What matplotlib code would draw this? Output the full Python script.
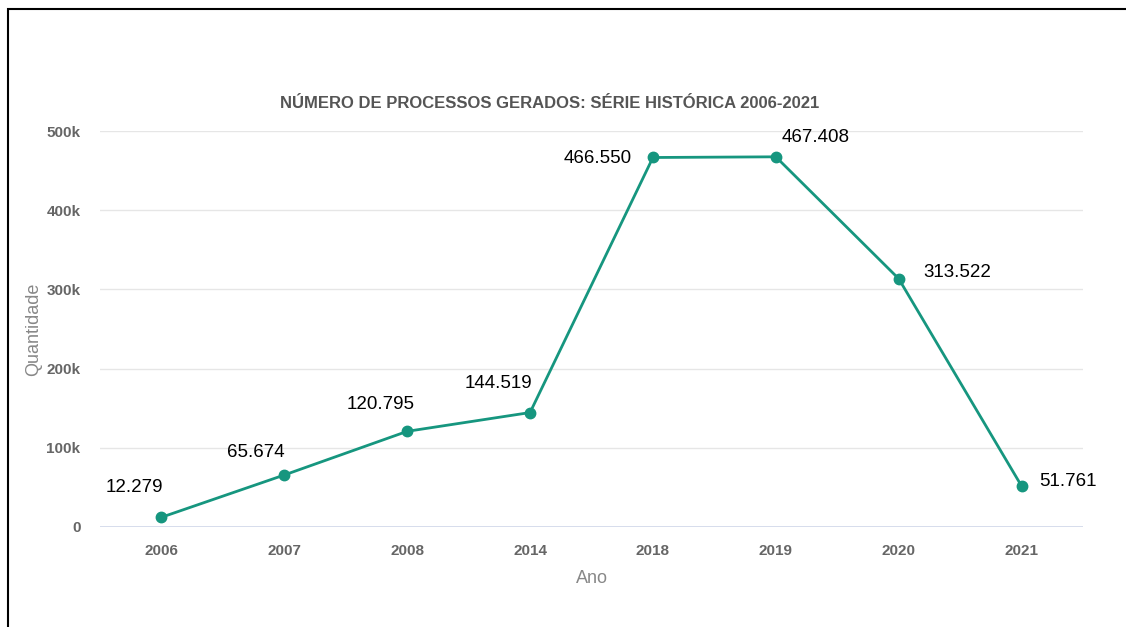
import matplotlib
matplotlib.use('Agg')
import matplotlib.pyplot as plt
from matplotlib.patches import Rectangle

anos = ['2006', '2007', '2008', '2014', '2018', '2019', '2020', '2021']
quantidade = [12279, 65674, 120795, 144519, 466550, 467408, 313522, 51761]
rotulos = ['12.279', '65.674', '120.795', '144.519', '466.550', '467.408', '313.522', '51.761']
yticks = [0, 100000, 200000, 300000, 400000, 500000]
ytick_labels = ['0', '100k', '200k', '300k', '400k', '500k']

# label offsets in pixels (dx, dy)
offsets = [(-27, 30), (-29, 22), (-27, 27), (-32, 29), (-55, -1), (40, 19), (59, 6), (46, 5)]

plt.rcParams['font.family'] = ['Liberation Sans', 'DejaVu Sans']

fig = plt.figure(figsize=(11.26, 6.27), dpi=100)
ax = fig.add_axes([100 / 1126, 1 - 527 / 627, 983 / 1126, (527 - 131) / 627])

# outer frame
fig.patches.append(Rectangle((8 / 1126, -0.05), 1.2, 1 - 9 / 627 + 0.05,
                             transform=fig.transFigure, fill=False,
                             edgecolor='black', linewidth=1.5))

x = list(range(len(anos)))
ax.plot(x, quantidade, color='#16967f', linewidth=2, marker='o', markersize=7.5, zorder=3)

for i, (v, t) in enumerate(zip(quantidade, rotulos)):
    ax.annotate(t, (i, v), xytext=offsets[i], textcoords='offset pixels',
                ha='center', va='center', fontsize=13.5, color='black')

ax.set_xlim(-0.5, len(anos) - 0.5)
ax.set_ylim(0, 500000)
ax.set_yticks(yticks)
ax.set_yticklabels(ytick_labels)
ax.set_xticks(x)
ax.set_xticklabels(anos)
ax.tick_params(axis='both', length=0, labelsize=11, colors='#666666')
for lbl in ax.get_xticklabels() + ax.get_yticklabels():
    lbl.set_fontweight('bold')
ax.tick_params(axis='y', pad=14)
ax.tick_params(axis='x', pad=12)

for s in ax.spines.values():
    s.set_visible(False)
ax.grid(axis='y', color='#e6e6e6', linewidth=1)
ax.axhline(0, color='#ccd6eb', linewidth=1.2, zorder=1)

ax.set_ylabel('Quantidade', fontsize=13, color='#888888', labelpad=3)
ax.set_xlabel('Ano', fontsize=13, color='#888888', labelpad=9)

fig.text(550 / 1126, 1 - 103 / 627, 'NÚMERO DE PROCESSOS GERADOS: SÉRIE HISTÓRICA 2006-2021',
         ha='center', va='center', fontsize=12, fontweight='bold', color='#555555')

fig.savefig('out.png', dpi=100)
